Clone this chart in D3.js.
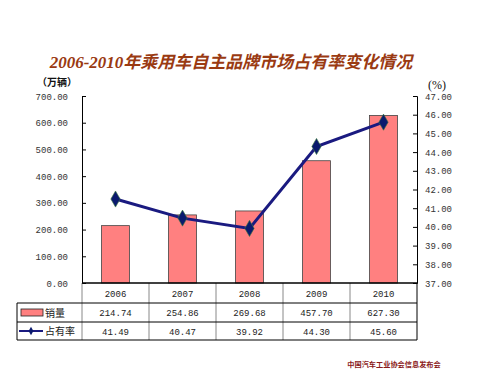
<!DOCTYPE html>
<html>
<head>
<meta charset="utf-8">
<script src="https://cdn.jsdelivr.net/npm/d3@7"></script>
<style>
  body { margin: 0; background: #fff; }
</style>
</head>
<body>
<div id="chart"></div>
<script>
// data
const years = ['2006', '2007', '2008', '2009', '2010'];
const sales = [214.74, 254.86, 269.68, 457.70, 627.30];
const share = [41.49, 40.47, 39.92, 44.30, 45.60];
const leftTicks = [0, 100, 200, 300, 400, 500, 600, 700];
const rightTicks = [37, 38, 39, 40, 41, 42, 43, 44, 45, 46, 47];

const width = 500, height = 377;
const plotLeft = 82, plotRight = 417, plotTop = 96, plotBottom = 283;
const tableLeft = 17;
const rowY = [283, 303, 322, 340];
const mono = '"Liberation Mono", "DejaVu Sans Mono", monospace';
const cjk = '"Noto Sans CJK SC", sans-serif';
const serif = '"Liberation Serif", "Noto Sans CJK SC", serif';

const svg = d3.select('#chart').append('svg')
    .attr('width', width)
    .attr('height', height);

const x = d3.scaleBand()
    .domain(years)
    .range([plotLeft, plotRight]);

const yL = d3.scaleLinear().domain([0, 700]).range([plotBottom, plotTop]);
const yR = d3.scaleLinear().domain([37, 47]).range([plotBottom, plotTop]);

// title
svg.append('text')
    .attr('x', 231)
    .attr('y', 68)
    .attr('text-anchor', 'middle')
    .attr('font-family', serif)
    .attr('fill', '#9a3a12')
    .attr('font-size', '17px')
    .attr('font-weight', 'bold')
    .attr('font-style', 'italic')
    .text('2006-2010年乘用车自主品牌市场占有率变化情况');

// unit labels
svg.append('text')
    .attr('x', 37).attr('y', 86)
    .attr('font-family', cjk)
    .attr('font-weight', 'bold')
    .attr('font-size', '10px')
    .attr('fill', '#111')
    .text('（万辆）');

svg.append('text')
    .attr('x', 437).attr('y', 89)
    .attr('text-anchor', 'middle')
    .attr('font-family', serif)
    .attr('font-size', '12px')
    .attr('fill', '#111')
    .text('(%)');

// bars
const bw = 28;
svg.selectAll('.bar')
    .data(years)
    .enter()
    .append('rect')
    .attr('class', 'bar')
    .attr('x', (d) => x(d) + x.bandwidth() / 2 - bw / 2)
    .attr('y', (d, i) => yL(sales[i]))
    .attr('width', bw)
    .attr('height', (d, i) => plotBottom - yL(sales[i]))
    .attr('fill', '#ff8080')
    .attr('stroke', '#444')
    .attr('stroke-width', 0.8);

// left axis
svg.append('g')
    .attr('transform', `translate(${plotLeft},0)`)
    .call(d3.axisRight(yL).tickValues(leftTicks).tickSize(4).tickFormat(''))
    .call((g) => g.select('.domain').attr('stroke', '#000'));

svg.selectAll('.ltick')
    .data(leftTicks)
    .enter()
    .append('text')
    .attr('x', 68)
    .attr('y', (d) => yL(d) + 3.5)
    .attr('text-anchor', 'end')
    .attr('font-family', mono)
    .attr('font-size', '9px')
    .attr('fill', '#333')
    .text((d) => d.toFixed(2));

// right axis
svg.append('g')
    .attr('transform', `translate(${plotRight},0)`)
    .call(d3.axisLeft(yR).tickValues(rightTicks).tickSize(4).tickFormat(''))
    .call((g) => g.select('.domain').attr('stroke', '#000'));

svg.selectAll('.rtick')
    .data(rightTicks)
    .enter()
    .append('text')
    .attr('x', 425)
    .attr('y', (d) => yR(d) + 3.5)
    .attr('font-family', mono)
    .attr('font-size', '9px')
    .attr('fill', '#333')
    .text((d) => d.toFixed(2));

// share line
const line = d3.line()
    .x((d, i) => x(years[i]) + x.bandwidth() / 2)
    .y((d) => yR(d));

svg.append('path')
    .datum(share)
    .attr('d', line)
    .attr('fill', 'none')
    .attr('stroke', '#1a1a80')
    .attr('stroke-width', 3);

const diamond = d3.symbol().type(d3.symbolDiamond).size(75);
svg.selectAll('.pt')
    .data(share)
    .enter()
    .append('path')
    .attr('class', 'pt')
    .attr('transform', (d, i) => `translate(${x(years[i]) + x.bandwidth() / 2},${yR(d)})`)
    .attr('d', diamond)
    .attr('fill', '#0a1a6e')
    .attr('stroke', '#3a7a3a')
    .attr('stroke-width', 0.6);

// data table
const grid = svg.append('g');
years.forEach((d, i) => {
    if (i === 0) return;
    grid.append('line')
        .attr('x1', x(d)).attr('x2', x(d))
        .attr('y1', rowY[0]).attr('y2', rowY[3])
        .attr('stroke', '#888').attr('stroke-width', 1);
});
grid.append('line')
    .attr('x1', plotLeft).attr('x2', plotLeft)
    .attr('y1', rowY[0]).attr('y2', rowY[3])
    .attr('stroke', '#888');
grid.append('line')
    .attr('x1', tableLeft).attr('x2', tableLeft)
    .attr('y1', rowY[1]).attr('y2', rowY[3])
    .attr('stroke', '#000');
grid.append('line')
    .attr('x1', plotRight).attr('x2', plotRight)
    .attr('y1', rowY[0]).attr('y2', rowY[3])
    .attr('stroke', '#000');
grid.append('line')
    .attr('x1', plotLeft).attr('x2', plotRight)
    .attr('y1', rowY[0]).attr('y2', rowY[0])
    .attr('stroke', '#000').attr('stroke-width', 1.5);
[rowY[1], rowY[2], rowY[3]].forEach((yy) => {
    grid.append('line')
        .attr('x1', tableLeft).attr('x2', plotRight)
        .attr('y1', yy).attr('y2', yy)
        .attr('stroke', '#000').attr('stroke-width', 1);
});

const cellText = (vals, row, fmt) => {
    svg.selectAll(null)
        .data(vals)
        .enter()
        .append('text')
        .attr('x', (d, i) => x(years[i]) + x.bandwidth() / 2)
        .attr('y', (rowY[row] + rowY[row + 1]) / 2 + 3.5)
        .attr('text-anchor', 'middle')
        .attr('font-family', mono)
        .attr('font-size', '9px')
        .attr('fill', '#222')
        .text(fmt);
};
cellText(years, 0, (d) => d);
cellText(sales, 1, (d) => d.toFixed(2));
cellText(share, 2, (d) => d.toFixed(2));

// legend keys in table
svg.append('rect')
    .attr('x', 21).attr('y', 309)
    .attr('width', 22).attr('height', 7)
    .attr('fill', '#ff8080')
    .attr('stroke', '#222')
    .attr('stroke-width', 0.8);
svg.append('text')
    .attr('x', 45).attr('y', 316.5)
    .attr('font-family', cjk)
    .attr('font-size', '10px')
    .attr('fill', '#222')
    .text('销量');

svg.append('line')
    .attr('x1', 19).attr('x2', 43)
    .attr('y1', 331).attr('y2', 331)
    .attr('stroke', '#1a1a80').attr('stroke-width', 2);
svg.append('path')
    .attr('transform', 'translate(31,331)')
    .attr('d', d3.symbol().type(d3.symbolDiamond).size(20))
    .attr('fill', '#0a1a6e');
svg.append('text')
    .attr('x', 45).attr('y', 335)
    .attr('font-family', cjk)
    .attr('font-size', '10px')
    .attr('fill', '#222')
    .text('占有率');

// footer
svg.append('text')
    .attr('x', 394).attr('y', 367)
    .attr('text-anchor', 'middle')
    .attr('font-family', cjk)
    .attr('font-weight', 'bold')
    .attr('font-size', '7.2px')
    .attr('fill', '#8b1a1a')
    .text('中国汽车工业协会信息发布会');
</script>
</body>
</html>
